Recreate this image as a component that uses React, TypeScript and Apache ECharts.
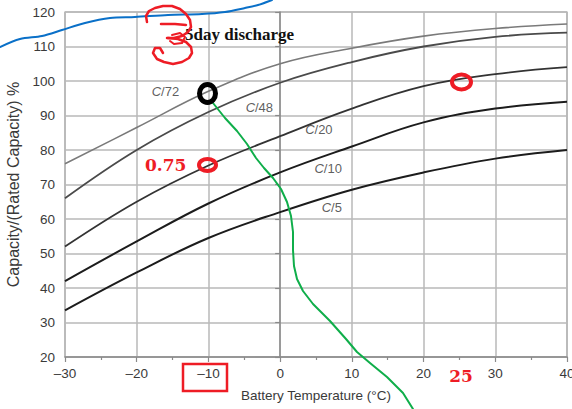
import React, { useEffect, useRef } from "react";
import * as echarts from "echarts";

// Data
const temps = [-30, -20, -10, 0, 10, 20, 30, 40];
const c72 = [76, 86.5, 97, 105, 109.5, 113, 115.2, 116.5];
const c48 = [66, 80, 91, 99.5, 105.5, 110, 112.8, 114];
const c20 = [52, 65, 75.5, 84, 92, 98.5, 102, 104];
const c10 = [42, 53.5, 64.5, 73.5, 81, 88, 92, 94];
const c5 = [33.5, 44.5, 54.5, 62, 68.5, 73.5, 77.5, 80];

const curveNames = ["C/72", "C/48", "C/20", "C/10", "C/5"];
const curveValues = [c72, c48, c20, c10, c5];
const labelX = [-16, -2.9, 5.4, 6.7, 7.2];
const labelY = [97.1, 92.2, 85.8, 74.6, 63.3];

// Styles
const curveColors = ["#7a7a7a", "#4a4a4a", "#333333", "#1c1c1c", "#1c1c1c"];
const curveWidths = [1.6, 1.8, 1.8, 2, 2];

// Hand-drawn annotations (pixel positions)
const bluePts = [[0, 47], [20, 39], [42, 36], [62, 30], [85, 23], [110, 18], [135, 17], [168, 15], [202, 14], [225, 12], [245, 8], [258, 5], [272, 0]];
const greenPts = [[213, 103], [225, 118], [237, 131], [247, 144], [256, 158], [264, 168], [273, 178], [281, 189], [287, 202], [291, 216], [293, 232], [293, 250], [294, 266], [297, 279], [303, 291], [313, 304], [330, 321], [346, 339], [357, 352], [370, 363], [387, 377], [403, 393], [413, 409]];
const scribbleA = [[147, 22], [146, 16], [149, 11], [155, 8], [163, 6], [172, 6], [180, 9], [186, 14], [190, 20], [191, 27], [188, 32], [182, 36], [174, 38], [167, 38]];
const scribbleB = [[161, 24], [175, 24], [186, 25]];
const scribbleC = [[168, 38], [178, 39], [186, 42], [191, 47], [192, 53], [189, 58], [182, 62], [173, 64], [164, 62], [157, 59], [153, 53], [155, 48], [160, 48], [163, 53]];
const scribbleD = [[172, 35], [180, 33], [185, 37], [182, 43], [174, 44], [170, 41]];

export default function App() {
  const ref = useRef<HTMLDivElement>(null);
  useEffect(() => {
    if (!ref.current) return;
    const chart = echarts.init(ref.current, null, { renderer: "svg" });
    const lineSeries = curveNames.map((n, i) => ({
      name: n,
      type: "line",
      data: temps.map((t, j) => [t, curveValues[i][j]]),
      smooth: 0.4,
      showSymbol: false,
      symbol: "none",
      lineStyle: { color: curveColors[i], width: curveWidths[i] },
      z: 3,
    }));
    const labelSeries = {
      type: "scatter",
      symbolSize: 0,
      data: curveNames.map((n, i) => ({ value: [labelX[i], labelY[i]], name: n })),
      label: {
        show: true,
        position: "inside",
        formatter: (p: any) => "{i|C}{n|" + p.name.slice(1) + "}",
        rich: {
          i: { fontStyle: "italic", fontSize: 13, color: "#333", fontFamily: "Liberation Sans" },
          n: { fontSize: 13, color: "#333", fontFamily: "Liberation Sans" },
        },
      },
      z: 4,
    };
    const red = "#ee1c25";
    const poly = (pts: number[][], color: string, w: number, smooth: any = false) => ({
      type: "polyline",
      shape: { points: pts, smooth },
      style: { stroke: color, lineWidth: w, fill: null, lineJoin: "round", lineCap: "round" },
      z: 100,
    });
    chart.setOption({
      animation: false,
      grid: { left: 65, right: 5, top: 12, bottom: 52, show: true, borderColor: "#9a9a9a", borderWidth: 1.2, outerBoundsMode: "none", containLabel: false },
      xAxis: {
        type: "value",
        min: -30,
        max: 40,
        interval: 10,
        name: "Battery Temperature (°C)",
        nameLocation: "middle",
        nameGap: 31,
        nameTextStyle: { fontSize: 13.5, color: "#3a3a3a", fontFamily: "Liberation Sans" },
        axisLine: { show: true, lineStyle: { color: "#8a8a8a", width: 1.5 } },
        axisTick: { show: true, length: 5, lineStyle: { color: "#8a8a8a", width: 1.2 } },
        minorTick: { show: true, splitNumber: 2, length: 3, lineStyle: { color: "#8a8a8a", width: 1.2 } },
        splitLine: { show: true, lineStyle: { color: "#b8b8b8", width: 1.5 } },
        axisLabel: {
          fontSize: 13.5,
          color: "#3a3a3a",
          fontFamily: "Liberation Sans",
          margin: 9,
          formatter: (v: number) => (v < 0 ? "\u2013" + Math.abs(v) : String(v)),
        },
      },
      yAxis: {
        type: "value",
        min: 20,
        max: 120,
        interval: 10,
        name: "Capacity/(Rated Capacity) %",
        nameLocation: "middle",
        nameGap: 38,
        nameTextStyle: { fontSize: 16, color: "#3a3a3a", fontFamily: "Liberation Sans" },
        axisLine: { show: true, lineStyle: { color: "#8a8a8a", width: 1.5 } },
        axisTick: { show: true, length: 5, lineStyle: { color: "#8a8a8a", width: 1.2 } },
        splitLine: { show: true, lineStyle: { color: "#b8b8b8", width: 1.5 } },
        axisLabel: { fontSize: 13.5, color: "#3a3a3a", fontFamily: "Liberation Sans", margin: 10 },
      },
      series: [...lineSeries, labelSeries],
      graphic: [
        poly(bluePts, "#0a70c8", 2, 0.3),
        poly(greenPts, "#0fae4a", 2),
        {
          type: "text",
          style: { x: 185, y: 43, text: "5day discharge", font: "bold 17px 'Liberation Serif'", fill: "#111", textVerticalAlign: "bottom" },
          z: 90,
        },
        poly(scribbleA, red, 2.5),
        poly(scribbleB, red, 2.5),
        poly(scribbleC, red, 2.5),
        poly(scribbleD, red, 2),
        { type: "ellipse", shape: { cx: 207.5, cy: 93.5, rx: 8, ry: 9 }, style: { stroke: "#000", lineWidth: 5, fill: null }, z: 100 },
        { type: "ellipse", shape: { cx: 207.5, cy: 165, rx: 8.5, ry: 6 }, style: { stroke: red, lineWidth: 4, fill: null }, z: 100 },
        { type: "ellipse", shape: { cx: 461.5, cy: 82, rx: 9.5, ry: 7.5 }, style: { stroke: red, lineWidth: 4, fill: null }, z: 100 },
        {
          type: "text",
          style: { x: 145, y: 165, text: "0.75", font: "bold 17px 'DejaVu Serif'", fill: red, textVerticalAlign: "middle" },
          z: 100,
        },
        { type: "rect", shape: { x: 183, y: 364, width: 44, height: 27 }, style: { stroke: red, lineWidth: 2.5, fill: null }, z: 100 },
        {
          type: "text",
          style: { x: 461, y: 376, text: "25", font: "bold 17px 'DejaVu Serif'", fill: red, textAlign: "center", textVerticalAlign: "middle" },
          z: 100,
        },
      ],
    });
    return () => chart.dispose();
  }, []);
  return <div ref={ref} style={{ position: "absolute", left: 0, top: 0, width: 572, height: 409, background: "#fff" }} />;
}
